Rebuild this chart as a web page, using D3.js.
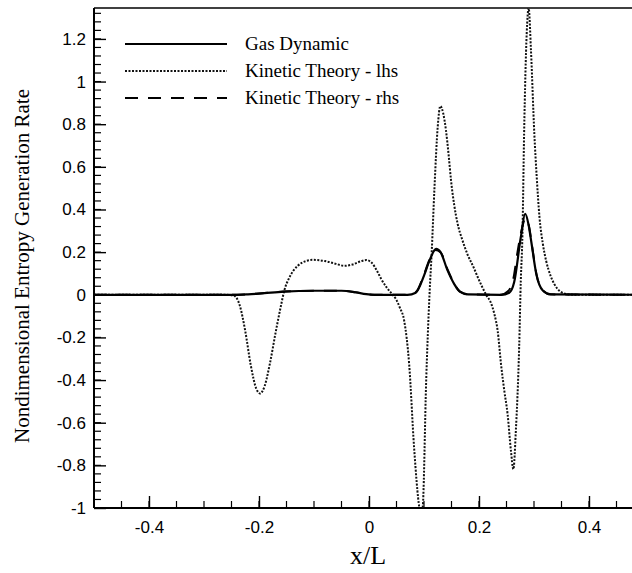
<!DOCTYPE html>
<html>
<head>
<meta charset="utf-8">
<script src="https://cdn.jsdelivr.net/npm/d3@7"></script>
<style>
  body { margin: 0; background: #fff; }
  .tick-label { font-family: "Liberation Sans", Arial, sans-serif; font-size: 17px; fill: #000; }
  .serif { font-family: "Liberation Serif", "Times New Roman", serif; fill: #000; }
</style>
</head>
<body>
<div id="chart"></div>
<script>
// series: x/L and entropy generation rate
var gasX = [-0.5, -0.24, -0.22, -0.19, -0.155, -0.1, -0.05, -0.025, -0.005, 0.01, 0.07, 0.085, 0.1, 0.11, 0.122, 0.13, 0.143, 0.155, 0.165, 0.18, 0.24, 0.255, 0.264, 0.276, 0.284, 0.29, 0.295, 0.304, 0.316, 0.33, 0.5];
var gasY = [0, 0, 0.002, 0.008, 0.015, 0.019, 0.019, 0.012, 0.003, 0, 0, 0.01, 0.09, 0.16, 0.215, 0.2, 0.113, 0.05, 0.015, 0.002, 0, 0.01, 0.06, 0.27, 0.38, 0.33, 0.25, 0.1, 0.02, 0.002, 0];

var lhsX = [-0.5, -0.26, -0.245, -0.235, -0.225, -0.215, -0.205, -0.198, -0.19, -0.18, -0.17, -0.16, -0.154, -0.145, -0.13, -0.115, -0.102, -0.08, -0.06, -0.045, -0.03, -0.015, -0.005, 0.005, 0.015, 0.022, 0.032, 0.043, 0.049, 0.056, 0.064, 0.073, 0.082, 0.0915, 0.094, 0.0976, 0.104, 0.11, 0.114, 0.119, 0.125, 0.1297, 0.135, 0.14, 0.145, 0.149, 0.155, 0.161, 0.17, 0.179, 0.19, 0.198, 0.213, 0.222, 0.228, 0.234, 0.24, 0.246, 0.252, 0.258, 0.2625, 0.267, 0.273, 0.276, 0.279, 0.282, 0.2867, 0.2903, 0.2945, 0.3006, 0.305, 0.31, 0.316, 0.322, 0.33, 0.337, 0.348, 0.361, 0.375, 0.5];
var lhsY = [0, 0, -0.005, -0.05, -0.17, -0.33, -0.44, -0.463, -0.43, -0.32, -0.18, -0.05, 0.02, 0.08, 0.135, 0.158, 0.164, 0.158, 0.145, 0.136, 0.142, 0.157, 0.163, 0.15, 0.11, 0.075, 0.035, 0, -0.02, -0.06, -0.122, -0.325, -0.717, -0.998, -1.03, -0.998, -0.4, 0, 0.2, 0.5, 0.79, 0.885, 0.85, 0.77, 0.65, 0.54, 0.42, 0.335, 0.255, 0.19, 0.13, 0.081, 0, -0.04, -0.091, -0.17, -0.325, -0.45, -0.56, -0.73, -0.818, -0.638, -0.247, 0.066, 0.285, 0.754, 1.224, 1.345, 1.146, 0.754, 0.55, 0.363, 0.24, 0.16, 0.09, 0.05, 0.015, 0.003, 0, 0];

var rhsX = [-0.5, -0.24, -0.22, -0.19, -0.155, -0.1, -0.05, -0.025, -0.005, 0.01, 0.07, 0.085, 0.1, 0.11, 0.121, 0.13, 0.143, 0.155, 0.165, 0.18, 0.24, 0.252, 0.262, 0.27, 0.278, 0.285, 0.291, 0.297, 0.305, 0.317, 0.33, 0.5];
var rhsY = [0, 0, 0.002, 0.008, 0.015, 0.019, 0.019, 0.012, 0.003, 0, 0, 0.012, 0.095, 0.165, 0.21, 0.2, 0.118, 0.052, 0.016, 0.002, 0, 0.015, 0.07, 0.2, 0.31, 0.36, 0.32, 0.22, 0.09, 0.018, 0.002, 0];

var xTicks = [-0.4, -0.2, 0, 0.2, 0.4];
var yTicks = [-1, -0.8, -0.6, -0.4, -0.2, 0, 0.2, 0.4, 0.6, 0.8, 1, 1.2];
var seriesNames = ["Gas Dynamic", "Kinetic Theory - lhs", "Kinetic Theory - rhs"];

var margin = {top: 8, left: 94},
    width = 550,
    height = 500;

var svg = d3.select("#chart").append("svg")
    .attr("width", 632)
    .attr("height", 573);

var g = svg.append("g")
    .attr("transform", "translate(" + margin.left + "," + margin.top + ")");

var x = d3.scaleLinear().domain([-0.5, 0.5]).range([0, width]);
var y = d3.scaleLinear().domain([-1, 1.345]).range([height, 0]);

g.append("clipPath").attr("id", "clip")
    .append("rect").attr("width", width).attr("height", height);

// minor ticks
var xMinor = d3.range(-0.5, 0.501, 0.05);
var yMinor = d3.range(-1, 1.345, 0.04);

g.selectAll(".xminor").data(xMinor).enter().append("line")
    .attr("x1", function (d) { return x(d); })
    .attr("x2", function (d) { return x(d); })
    .attr("y1", height).attr("y2", height - 7)
    .attr("stroke", "#000").attr("stroke-width", 1.2);

g.selectAll(".yminor").data(yMinor).enter().append("line")
    .attr("y1", function (d) { return y(d); })
    .attr("y2", function (d) { return y(d); })
    .attr("x1", 0).attr("x2", 7)
    .attr("stroke", "#000").attr("stroke-width", 1.2);

// plain hyphen for negatives, like the original
var fmt = function (d) { return String(+d.toFixed(1)); };

var xAxis = d3.axisBottom(x).tickValues(xTicks).tickSize(-12).tickPadding(13).tickFormat(fmt);
var yAxis = d3.axisLeft(y).tickValues(yTicks).tickSize(-12).tickPadding(8).tickFormat(fmt);

var gx = g.append("g").attr("transform", "translate(0," + height + ")").call(xAxis);
var gy = g.append("g").call(yAxis);
[gx, gy].forEach(function (a) {
    a.attr("font-size", null).attr("font-family", null);
    a.select(".domain").remove();
    a.selectAll(".tick line").attr("stroke", "#000").attr("stroke-width", 1.4);
    a.selectAll(".tick text").attr("class", "tick-label");
});

// frame
g.append("line").attr("x1", 0).attr("x2", 0).attr("y1", 0).attr("y2", height)
    .attr("stroke", "#000").attr("stroke-width", 2);
g.append("line").attr("x1", 0).attr("x2", width).attr("y1", height).attr("y2", height)
    .attr("stroke", "#000").attr("stroke-width", 2);
g.append("line").attr("x1", 0).attr("x2", width).attr("y1", 0).attr("y2", 0)
    .attr("stroke", "#000").attr("stroke-width", 1.6);

var line = d3.line()
    .x(function (d) { return x(d[0]); })
    .y(function (d) { return y(d[1]); })
    .curve(d3.curveMonotoneX);

var plot = g.append("g").attr("clip-path", "url(#clip)");

plot.append("path").datum(d3.zip(lhsX, lhsY))
    .attr("d", line).attr("fill", "none")
    .attr("stroke", "#111").attr("stroke-width", 2).attr("stroke-dasharray", "2,1.5");

plot.append("path").datum(d3.zip(rhsX, rhsY))
    .attr("d", line).attr("fill", "none")
    .attr("stroke", "#000").attr("stroke-width", 2).attr("stroke-dasharray", "13,10");

plot.append("path").datum(d3.zip(gasX, gasY))
    .attr("d", line).attr("fill", "none")
    .attr("stroke", "#000").attr("stroke-width", 2.2);

// legend
var styles = [
    {w: 2.2, dash: null, c: "#000"},
    {w: 2, dash: "2,1.5", c: "#111"},
    {w: 2, dash: "13,10", c: "#000"}
];
var legend = svg.append("g");
seriesNames.forEach(function (name, i) {
    var ly = 44 + i * 27;
    legend.append("line")
        .attr("x1", 125).attr("x2", 227).attr("y1", ly).attr("y2", ly)
        .attr("stroke", styles[i].c).attr("stroke-width", styles[i].w)
        .attr("stroke-dasharray", styles[i].dash);
    legend.append("text").attr("class", "serif")
        .attr("x", 245).attr("y", ly + 6)
        .attr("font-size", 19)
        .text(name);
});

// axis titles
svg.append("text").attr("class", "serif")
    .attr("x", 368).attr("y", 564)
    .attr("text-anchor", "middle")
    .attr("font-size", 26)
    .text("x/L");

svg.append("text").attr("class", "serif")
    .attr("transform", "translate(29,266) rotate(-90)")
    .attr("text-anchor", "middle")
    .attr("font-size", 21)
    .text("Nondimensional Entropy Generation Rate");
</script>
</body>
</html>
